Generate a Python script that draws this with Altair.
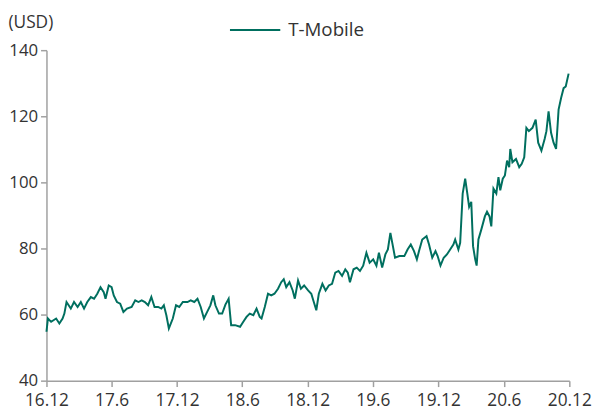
import altair as alt
import pandas as pd

dates = [
    "2016-12-01", "2016-12-05", "2016-12-14", "2016-12-28", "2017-01-06", "2017-01-15",
    "2017-01-20", "2017-01-26", "2017-02-07", "2017-02-16", "2017-02-26", "2017-03-07",
    "2017-03-16", "2017-03-25", "2017-04-04", "2017-04-13", "2017-04-22", "2017-05-01",
    "2017-05-10", "2017-05-15", "2017-05-24", "2017-06-01", "2017-06-07", "2017-06-16",
    "2017-06-25", "2017-07-04", "2017-07-14", "2017-07-27", "2017-08-06", "2017-08-15",
    "2017-08-24", "2017-09-02", "2017-09-11", "2017-09-20", "2017-09-29", "2017-10-09",
    "2017-10-18", "2017-10-25", "2017-11-01", "2017-11-08", "2017-11-19", "2017-11-28",
    "2017-12-07", "2017-12-17", "2017-12-30", "2018-01-08", "2018-01-18", "2018-01-27",
    "2018-02-05", "2018-02-14", "2018-02-23", "2018-03-04", "2018-03-12", "2018-03-18",
    "2018-03-28", "2018-04-06", "2018-04-15", "2018-04-24", "2018-05-01", "2018-05-12",
    "2018-05-26", "2018-06-04", "2018-06-13", "2018-06-22", "2018-07-02", "2018-07-11",
    "2018-07-20", "2018-07-25", "2018-08-03", "2018-08-12", "2018-08-21", "2018-08-30",
    "2018-09-09", "2018-09-18", "2018-09-25", "2018-10-02", "2018-10-11", "2018-10-20",
    "2018-10-26", "2018-11-04", "2018-11-12", "2018-11-21", "2018-12-02", "2018-12-11",
    "2018-12-18", "2018-12-25", "2019-01-01", "2019-01-11", "2019-01-20", "2019-01-29",
    "2019-02-07", "2019-02-16", "2019-02-25", "2019-03-07", "2019-03-16", "2019-03-23",
    "2019-03-29", "2019-04-08", "2019-04-17", "2019-04-26", "2019-05-05", "2019-05-14",
    "2019-05-23", "2019-06-02", "2019-06-11", "2019-06-18", "2019-06-27", "2019-07-06",
    "2019-07-13", "2019-07-20", "2019-07-27", "2019-08-02", "2019-08-14", "2019-08-28",
    "2019-09-06", "2019-09-15", "2019-09-24", "2019-10-02", "2019-10-08", "2019-10-17",
    "2019-10-29", "2019-11-05", "2019-11-14", "2019-11-23", "2019-11-29", "2019-12-07",
    "2019-12-16", "2019-12-25", "2020-01-03", "2020-01-12", "2020-01-17", "2020-01-26",
    "2020-01-31", "2020-02-07", "2020-02-14", "2020-02-20", "2020-02-25", "2020-03-02",
    "2020-03-07", "2020-03-13", "2020-03-17", "2020-03-22", "2020-03-30", "2020-04-09",
    "2020-04-15", "2020-04-22", "2020-04-27", "2020-05-03", "2020-05-11", "2020-05-17",
    "2020-05-22", "2020-05-29", "2020-06-04", "2020-06-10", "2020-06-16", "2020-06-19",
    "2020-06-25", "2020-07-05", "2020-07-14", "2020-07-21", "2020-07-28", "2020-08-03",
    "2020-08-10", "2020-08-20", "2020-08-29", "2020-09-05", "2020-09-14", "2020-09-23",
    "2020-09-28", "2020-10-04", "2020-10-11", "2020-10-18", "2020-10-25", "2020-11-01",
    "2020-11-08", "2020-11-15", "2020-11-21", "2020-11-29",
]

prices = [
    54.8, 58.8, 57.8, 58.8, 57.3, 58.8,
    60.3, 63.8, 61.8, 63.8, 62.3, 63.8,
    61.8, 63.8, 65.3, 64.8, 66.3, 68.3,
    66.8, 64.8, 68.8, 68.3, 65.8, 63.8,
    63.3, 60.8, 61.8, 62.3, 64.3, 63.8,
    64.3, 63.8, 62.8, 65.3, 62.3, 62.3,
    61.8, 62.8, 59.8, 55.8, 58.8, 62.8,
    62.3, 63.8, 63.8, 64.3, 63.8, 64.8,
    62.3, 58.8, 60.8, 62.8, 65.8, 62.8,
    60.3, 60.3, 63.0, 64.8, 56.8, 56.8,
    56.3, 57.8, 59.3, 60.3, 59.8, 61.8,
    59.3, 58.8, 62.3, 66.3, 65.8, 66.3,
    67.8, 69.8, 70.7, 68.3, 69.8, 67.3,
    64.8, 70.3, 67.8, 68.8, 67.3, 66.3,
    63.8, 61.3, 66.3, 69.3, 67.3, 68.8,
    69.3, 72.7, 73.2, 71.7, 73.7, 72.7,
    69.8, 73.7, 74.2, 73.2, 74.8, 78.7,
    75.7, 76.7, 74.8, 78.7, 74.2, 78.2,
    79.7, 84.7, 80.7, 77.2, 77.7, 77.7,
    79.7, 81.2, 79.2, 76.7, 79.2, 82.7,
    83.7, 81.2, 77.2, 79.2, 77.7, 74.8,
    77.2, 78.2, 79.7, 81.2, 82.7, 79.7,
    81.7, 96.6, 101.1, 96.6, 92.6, 94.1,
    80.7, 76.7, 74.8, 82.7, 85.7, 89.7,
    91.1, 89.7, 86.7, 98.1, 96.6, 101.6,
    97.6, 101.1, 102.1, 106.6, 104.6, 110.1,
    106.1, 107.1, 104.6, 105.6, 107.6, 116.5,
    115.5, 116.5, 119.0, 112.0, 109.6, 113.1,
    115.5, 121.5, 115.0, 112.0, 110.1, 122.0,
    125.5, 128.5, 129.0, 132.9,
]

series_name = "T-Mobile"
y_ticks = [40, 60, 80, 100, 120, 140]
x_tick_months = [(2016, 12), (2017, 6), (2017, 12), (2018, 6), (2018, 12),
                 (2019, 6), (2019, 12), (2020, 6), (2020, 12)]

df = pd.DataFrame({
    "date": pd.to_datetime(dates),
    "price": prices,
    "series": [series_name] * len(prices),
})

FONT = "Open Sans"
TEXT = "#333333"
AXIS = "#a0a0a0"
LINE = "#006F5F"
FS = 17.5

x_values = [alt.DateTime(year=y, month=m, date=1) for y, m in x_tick_months]

chart = (
    alt.Chart(df)
    .mark_line(strokeWidth=2, color=LINE)
    .encode(
        x=alt.X(
            "date:T",
            scale=alt.Scale(domain=[alt.DateTime(year=2016, month=12, date=1),
                                    alt.DateTime(year=2020, month=12, date=1)]),
            axis=alt.Axis(
                values=x_values,
                format="%y.%-m",
                title=None,
                grid=False,
                tickSize=6,
                labelPadding=5,
                labelFontSize=FS,
                labelColor=TEXT,
                labelFont=FONT,
                labelOverlap=False,
                labelFlush=False,
                domainColor=AXIS,
                domainWidth=1.5,
                tickColor=AXIS,
                tickWidth=1.5,
            ),
        ),
        y=alt.Y(
            "price:Q",
            scale=alt.Scale(domain=[40, 140]),
            axis=alt.Axis(
                values=y_ticks,
                title="(USD)",
                titleAngle=0,
                titleAlign="left",
                titleBaseline="middle",
                titleX=-39,
                titleY=-28,
                titleFont=FONT,
                titleFontSize=FS,
                titleFontWeight="normal",
                titleColor=TEXT,
                grid=False,
                tickSize=6,
                labelPadding=3,
                labelFontSize=17,
                labelColor=TEXT,
                labelFont=FONT,
                domainColor=AXIS,
                domainWidth=1.5,
                tickColor=AXIS,
                tickWidth=1.5,
            ),
        ),
        color=alt.Color(
            "series:N",
            scale=alt.Scale(range=[LINE]),
            legend=alt.Legend(
                title=None,
                orient="none",
                legendX=185,
                legendY=-47,
                padding=0,
                symbolType="stroke",
                symbolSize=2600,
                symbolStrokeWidth=2,
                labelFont=FONT,
                labelFontSize=19,
                labelColor=TEXT,
                labelOffset=7,
            ),
        ),
    )
    .properties(
        width=530,
        height=335,
        autosize=alt.AutoSizeParams(type="none"),
        padding={"left": 39, "top": 40, "right": 24, "bottom": 28},
        background="white",
    )
    .configure_view(stroke=None)
)

chart.save("out.html", embed_options={"renderer": "svg", "actions": False})
